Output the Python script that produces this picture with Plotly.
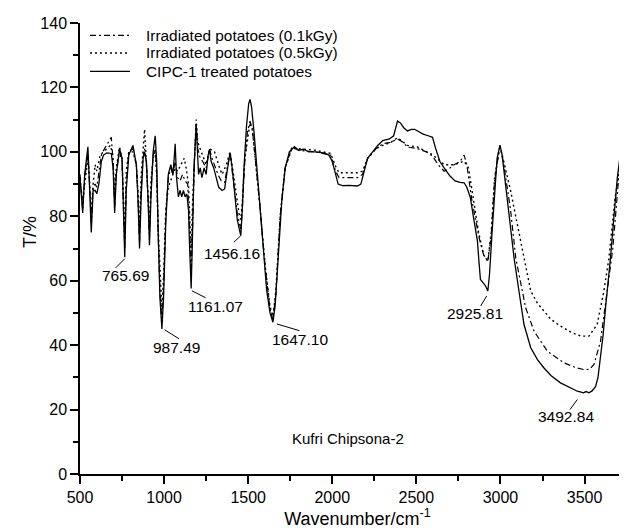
import plotly.graph_objects as go

# ---------------- data ----------------
wn_cipc = [500, 508, 516, 528, 547, 556, 567, 578, 590, 600, 612, 627, 640, 660, 686, 697, 706, 716, 735, 750,
           758, 766, 775, 790, 815, 835, 845, 854, 863, 875, 884, 895, 905, 913, 922, 935, 947, 956, 965, 975,
           987, 997, 1010, 1025, 1040, 1052, 1060, 1066, 1074, 1085, 1095, 1105, 1115, 1125, 1135, 1145, 1152, 1161, 1168, 1178,
           1191, 1198, 1205, 1215, 1225, 1238, 1250, 1262, 1270, 1280, 1295, 1310, 1325, 1345, 1360, 1375, 1392, 1405, 1420, 1435,
           1447, 1456, 1463, 1475, 1490, 1503, 1511, 1520, 1535, 1550, 1570, 1590, 1610, 1630, 1647, 1660, 1680, 1700, 1720, 1745,
           1775, 1800, 1830, 1860, 1900, 1950, 1980, 2000, 2020, 2035, 2060, 2100, 2150, 2170, 2190, 2210, 2240, 2270, 2300, 2340,
           2365, 2380, 2388, 2405, 2425, 2447, 2470, 2490, 2507, 2540, 2570, 2596, 2615, 2640, 2665, 2700, 2730, 2760, 2784, 2800,
           2820, 2840, 2855, 2863, 2872, 2881, 2895, 2910, 2925, 2935, 2950, 2965, 2980, 2997, 3010, 3030, 3055, 3081, 3110, 3140,
           3180, 3220, 3259, 3300, 3357, 3400, 3430, 3457, 3480, 3492, 3510, 3526, 3545, 3566, 3580, 3595, 3610, 3625, 3640, 3654,
           3675, 3695, 3715, 3734, 3745, 3755, 3765, 3773, 3785, 3800]
t_cipc = [92, 85, 81, 93, 101.6, 90, 75, 88, 88, 87, 90, 97, 99, 99.7, 99.5, 95, 81, 93, 101, 98,
          85, 67.3, 88, 99, 102, 96, 85, 70, 85, 98, 100, 97, 85, 71, 86, 100, 105, 97, 75, 55,
          45, 55, 78, 93, 96, 93, 98, 102.5, 92, 86, 88, 86, 88, 86, 87, 82, 70, 57.6, 72, 95,
          108.6, 100, 93, 95, 92, 95, 93, 99, 100.8, 97, 95, 92, 89, 88, 88.5, 94, 99.8, 95, 86, 79,
          76, 74, 80, 95, 108, 115, 116.3, 114, 106, 96, 82, 68, 57, 50, 47.1, 52, 68, 85, 95, 100,
          101.6, 100.5, 100.8, 100, 100, 99.7, 99, 97, 93, 90, 89.5, 89.6, 89.4, 90, 94, 98, 100, 102, 103.5, 104,
          105, 108, 109.6, 109, 107.5, 106.5, 107, 107, 106.5, 105.5, 105, 104.5, 101, 97, 95, 92.5, 91, 90.5, 90.4, 89,
          86, 80, 75, 72.4, 66, 60.4, 59.5, 58.5, 56.8, 62, 75, 88, 98, 102, 99, 90, 78, 67, 56.8, 46.4,
          39.2, 35.5, 32.9, 30.6, 28.3, 27.2, 26.5, 25.7, 25.4, 25.2, 25.6, 25.2, 25.8, 27.2, 30, 36, 43, 51.6, 59, 67,
          80, 92, 100, 103.3, 101, 99.5, 100.5, 98.5, 100, 99]

wn_01 = [500, 508, 516, 528, 547, 556, 567, 578, 590, 600, 612, 627, 646, 666, 686, 697, 706, 716, 735, 750,
         758, 766, 775, 790, 815, 835, 845, 854, 863, 875, 884, 895, 905, 913, 922, 935, 947, 956, 965, 975,
         987, 997, 1010, 1025, 1040, 1052, 1066, 1080, 1095, 1110, 1125, 1140, 1152, 1161, 1170, 1180, 1191, 1200, 1215, 1230,
         1250, 1270, 1285, 1300, 1320, 1340, 1360, 1375, 1392, 1405, 1420, 1435, 1447, 1456, 1465, 1480, 1495, 1511, 1525, 1545,
         1570, 1600, 1630, 1647, 1665, 1690, 1720, 1760, 1800, 1850, 1900, 1990, 2020, 2040, 2100, 2150, 2180, 2210, 2260, 2300,
         2350, 2388, 2420, 2447, 2507, 2560, 2596, 2630, 2665, 2700, 2724, 2760, 2784, 2800, 2830, 2873, 2900, 2925, 2945, 2965,
         2997, 3020, 3060, 3091, 3150, 3200, 3279, 3378, 3450, 3497, 3530, 3556, 3595, 3635, 3668, 3700, 3730, 3740, 3760, 3780,
         3800]
t_01 = [93, 86, 82, 92, 99, 91, 78, 89, 90, 89, 93, 99, 101, 103, 104.5, 97, 83, 94, 100, 97,
        86, 70, 90, 100, 101, 96, 86, 72, 88, 98, 101, 96, 86, 73, 88, 99, 101, 94, 74, 57,
        47, 58, 80, 92, 95, 93, 97, 92, 91, 93, 91, 90, 76, 62, 78, 97, 108.5, 101, 98, 97,
        95, 100.8, 98, 96, 93, 91, 90.5, 95, 99.8, 94, 87, 81, 78, 76, 82, 97, 106, 109.5, 107, 97,
        83, 65, 51, 48, 56, 80, 95, 101.5, 100.5, 100.2, 100, 99, 94, 92, 92, 92, 93, 98, 101, 102.5,
        103, 104, 103, 101.5, 101, 100, 98.7, 96, 94, 95, 96, 97, 99, 96, 85, 73.3, 68, 66, 74, 91,
        102, 96, 82, 67, 51.6, 44.3, 38.1, 34.5, 33, 32.4, 32.5, 34, 41.2, 56.8, 70, 90, 102, 103, 100, 98.5,
        99.5]

wn_05 = [500, 508, 516, 528, 547, 556, 567, 578, 590, 600, 620, 640, 660, 680, 695, 706, 716, 735, 750, 758,
         766, 775, 790, 815, 835, 845, 854, 863, 875, 884, 895, 905, 913, 922, 935, 947, 956, 965, 975, 987,
         997, 1010, 1025, 1040, 1066, 1080, 1100, 1120, 1131, 1145, 1152, 1161, 1170, 1180, 1191, 1200, 1220, 1250, 1270, 1300,
         1330, 1345, 1370, 1392, 1410, 1430, 1445, 1456, 1465, 1480, 1500, 1511, 1525, 1545, 1570, 1600, 1630, 1647, 1665, 1690,
         1720, 1760, 1800, 1900, 1990, 2020, 2040, 2150, 2180, 2210, 2260, 2300, 2350, 2388, 2420, 2447, 2507, 2560, 2600, 2665,
         2724, 2784, 2810, 2840, 2870, 2900, 2925, 2945, 2965, 2997, 3020, 3060, 3110, 3150, 3180, 3220, 3259, 3300, 3357, 3420,
         3477, 3526, 3575, 3615, 3645, 3680, 3720, 3734, 3750, 3773, 3800]
t_05 = [91, 87, 85, 90, 98, 92, 81, 90, 96, 94, 99, 100, 101, 102, 99, 86, 95, 101.5, 98, 88,
        74, 94, 100, 100, 96, 87, 76, 92, 100, 107, 96, 87, 76, 91, 98, 100, 93, 76, 62, 51,
        62, 82, 89, 91, 95, 94, 96, 98, 95, 90, 80, 70, 85, 98, 110, 103, 100, 96, 101, 100,
        95, 93, 96, 100, 94, 86, 81, 79, 84, 98, 106, 109, 107, 97, 83, 65, 52, 49, 57, 80,
        95, 101, 101, 100.5, 99.5, 95.5, 93.5, 93.5, 94, 98, 101, 102, 103, 104.4, 103, 102, 101.5, 100, 99, 96,
        96, 97.1, 95, 85, 75, 68, 66, 75, 92, 102, 97, 88, 75, 65, 56.8, 53, 50.6, 48, 45.9, 44,
        42.8, 42.8, 46.4, 56.8, 67, 85, 99, 102.5, 100, 99, 100.5]

series_names = ["Irradiated potatoes (0.1kGy)", "Irradiated potatoes (0.5kGy)", "CIPC-1 treated potatoes"]

peak_labels = ["765.69", "987.49", "1161.07", "1456.16", "1647.10", "2925.81", "3492.84"]
peak_wn = [765.69, 987.49, 1161.07, 1456.16, 1647.10, 2925.81, 3492.84]
peak_t = [67.1, 45.0, 57.6, 74.0, 47.1, 56.8, 25.2]

x_ticks = [500, 1000, 1500, 2000, 2500, 3000, 3500]
y_ticks = [0, 20, 40, 60, 80, 100, 120, 140]

# ---------------- styling ----------------
FONT = "Liberation Sans, Arial, sans-serif"
BLACK = "black"
dash_styles = ["6px,3px,2px,3px", "2px,3px", "solid"]
line_widths = [1.2, 1.4, 1.3]

# leader-line pixel offsets (x0, y0, x1, y1) and label pixel shifts, per peak
leader = [(0, -1, -9, -10), (2.6, -0.7, 17, -9.7), (0.7, -2.3, 14.4, -9.3), (0, 0, -7, -6.7),
          (4, -1.7, 26.5, -8.4), (-1.3, -5, -7.3, -15), (-6, -6.7, -13.3, -16.7)]
label_shift = [(1, -18), (15, -18), (24.7, -18.3), (-9, -17.7), (27, -17.4), (-13.3, -22.4), (-17, -23.3)]

# legend layout (paper coordinates)
leg_rows_y = [0.9727, 0.9335, 0.8929]
leg_x0, leg_x1, leg_text_x = 0.018, 0.0901, 0.1153

fig = go.Figure()
series = [(wn_01, t_01), (wn_05, t_05), (wn_cipc, t_cipc)]
for (xs, ys), name, dsh, lw in zip(series, series_names, dash_styles, line_widths):
    fig.add_trace(go.Scatter(x=xs, y=ys, mode="lines", name=name, showlegend=False,
                             line=dict(color=BLACK, width=lw, dash=dsh)))

# legend drawn as line samples + text
for name, dsh, lw, yy in zip(series_names, dash_styles, line_widths, leg_rows_y):
    fig.add_shape(type="line", xref="paper", yref="paper", x0=leg_x0, x1=leg_x1, y0=yy, y1=yy,
                  line=dict(color=BLACK, width=lw, dash=dsh))
    fig.add_annotation(xref="paper", yref="paper", x=leg_text_x, y=yy, text=name, showarrow=False,
                       xanchor="left", yanchor="middle",
                       font=dict(family=FONT, size=15.4, color=BLACK))

for lab, xw, yt, (x0, y0, x1, y1), (sx, sy) in zip(peak_labels, peak_wn, peak_t, leader, label_shift):
    fig.add_shape(type="line", xref="x", yref="y", xsizemode="pixel", ysizemode="pixel",
                  xanchor=xw, yanchor=yt, x0=x0, y0=y0, x1=x1, y1=y1,
                  line=dict(color=BLACK, width=1))
    fig.add_annotation(x=xw, y=yt, text=lab, showarrow=False, xshift=sx, yshift=sy,
                       font=dict(family=FONT, size=15.5, color=BLACK))

fig.add_annotation(x=1751, y=11.0, text="Kufri Chipsona-2", showarrow=False, xanchor="left",
                   font=dict(family=FONT, size=15, color=BLACK))

# y-axis title (placed as in the reference, slightly above the axis centre)
fig.add_annotation(xref="paper", yref="paper", x=-0.09, y=0.5366, text="T/%", showarrow=False,
                   textangle=-90, xanchor="center", yanchor="middle",
                   font=dict(family=FONT, size=18, color=BLACK))

axis_common = dict(showgrid=False, zeroline=False, showline=True, linecolor=BLACK, linewidth=1.5,
                   ticks="outside", ticklen=8, tickwidth=1.5, tickcolor=BLACK, automargin=False,
                   tickfont=dict(family=FONT, size=16, color=BLACK), mirror=False)

fig.update_xaxes(range=[500, 3800], tickvals=x_ticks, ticktext=[str(v) for v in x_ticks],
                 minor=dict(ticks="outside", ticklen=5, tickwidth=1.5, tickcolor=BLACK, dtick=250, tick0=500),
                 title=dict(text="Wavenumber/cm<sup>-1</sup>", font=dict(family=FONT, size=18, color=BLACK), standoff=4),
                 **axis_common)
fig.update_yaxes(range=[0, 140], tickvals=y_ticks, ticktext=[str(v) for v in y_ticks],
                 minor=dict(ticks="outside", ticklen=5, tickwidth=1.5, tickcolor=BLACK, dtick=10, tick0=0),
                 **axis_common)

fig.update_layout(width=627, height=528, plot_bgcolor="white", paper_bgcolor="white",
                  margin=dict(l=72, r=0, t=15, b=62, autoexpand=False),
                  showlegend=False)

fig.write_html("out.html")
